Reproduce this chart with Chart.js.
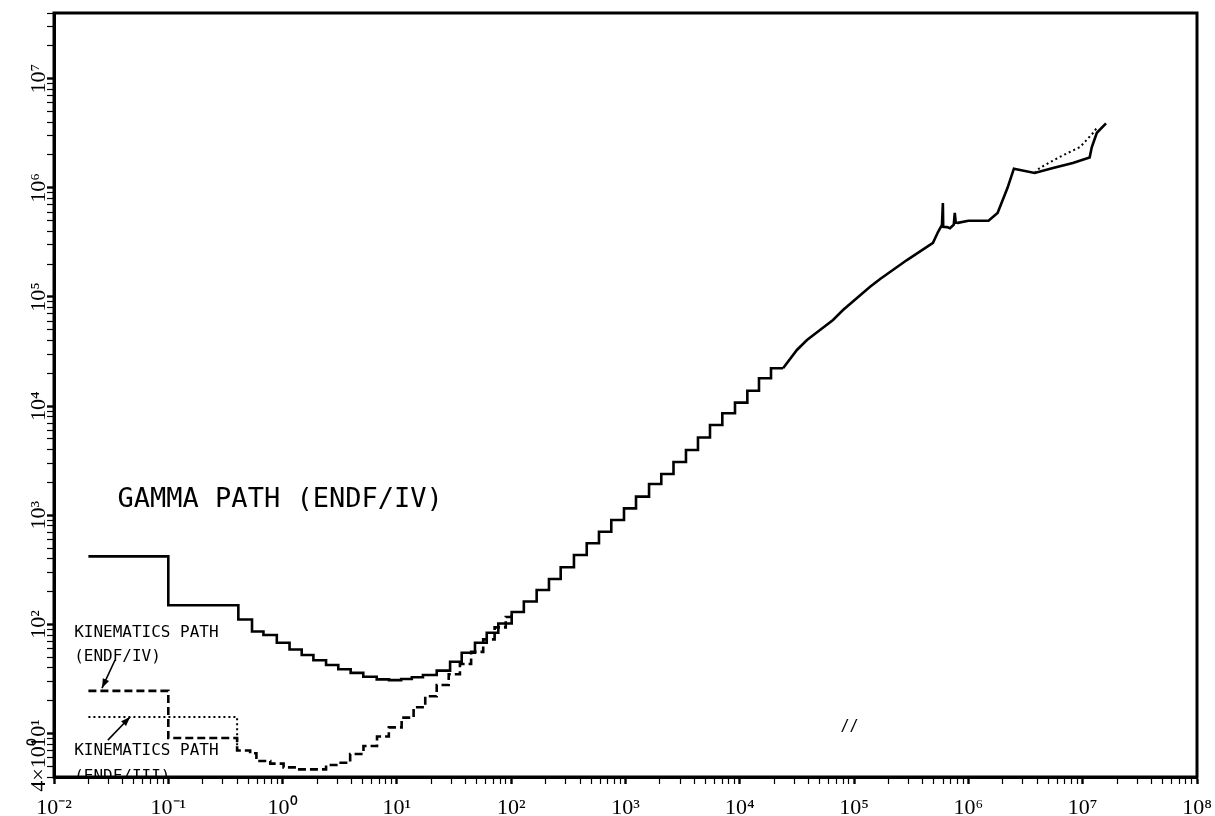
<!DOCTYPE html>
<html>
<head>
<meta charset="utf-8">
<script src="https://cdn.jsdelivr.net/npm/chart.js@4/dist/chart.umd.min.js"></script>
<style>
  html, body { margin: 0; padding: 0; background: #fff; }
  #wrap { width: 1215px; height: 816px; }
</style>
</head>
<body>
<div id="wrap"><canvas id="c" width="1215" height="816"></canvas></div>
<script>
// energy (x) and value (y)
const gammaStepE = [0.02, 0.1, 0.41, 0.54, 0.68, 0.89, 1.15, 1.47, 1.86, 2.4,
  3.07, 3.94, 5.08, 6.66, 8.53, 10.9, 13.5, 16.9, 22.3, 29.2,
  36.9, 48.2, 61.1, 77.1, 101, 129, 167, 214, 271, 354,
  458, 586, 751, 970, 1236, 1607, 2056, 2630, 3381, 4306,
  5485, 7031, 9078, 11640, 14720, 18750, 23900];
const gammaStepV = [420, 150, 111, 86, 80, 68, 59, 52.5, 47, 42.5,
  38.8, 36, 33.2, 31.4, 30.9, 31.6, 32.8, 34.4, 37.7, 45.5,
  55, 68, 84, 102, 130, 162, 207, 261, 334, 433,
  554, 707, 905, 1158, 1481, 1935, 2388, 3078, 3966, 5164,
  6719, 8597, 10760, 13840, 17990, 22220, 22220];

const gammaHighE = [23900, 31600, 38700, 50300, 65400, 80000, 106000, 138000, 169000, 290000,
  490000, 542000, 587000, 598000, 602000, 650000, 690000, 745000, 760000, 775000,
  810000, 1.0e6, 1.5e6, 1.8e6, 2.2e6, 2.5e6, 3.8e6, 5.5e6, 8.2e6, 1.15e7,
  1.2e7, 1.33e7, 1.6e7];
const gammaHighV = [22220, 32700, 40400, 49900, 61500, 76000, 98000, 124000, 146000, 218000,
  313000, 394000, 457000, 726000, 440000, 437000, 427000, 460000, 590000, 480000,
  478000, 5.0e5, 5.0e5, 5.9e5, 1.0e6, 1.5e6, 1.37e6, 1.52e6, 1.69e6, 1.9e6,
  2.35e6, 3.2e6, 3.9e6];

const kinIVE = [0.02, 0.1, 0.4, 0.52, 0.59, 0.78, 1.02, 1.33, 1.8, 2.4,
  3.07, 3.9, 5.1, 6.7, 8.5, 11, 14, 17.7, 22.3, 28.4,
  35.6, 44.6, 56.9, 71.6, 89.6, 101];
const kinIVV = [24.6, 9.1, 7.0, 6.6, 5.6, 5.3, 4.9, 4.7, 4.7, 5.15,
  5.4, 6.5, 7.7, 9.4, 11.4, 14, 17.4, 22, 27.9, 35,
  43.4, 56, 73, 94, 117, 130];

const kinIIIE = [0.02, 0.4, 0.4, 1, 3.8e6, 4.2e6, 6.3e6, 9.5e6, 1.23e7, 1.33e7];
const kinIIIV = [14.2, 14.2, 7.0, null, 1.37e6, 1.52e6, 1.92e6, 2.37e6, 3.18e6, 3.55e6];

const xTickVals = [1e-2, 1e-1, 1e0, 1e1, 1e2, 1e3, 1e4, 1e5, 1e6, 1e7, 1e8];
const xTickLabels = ['10⁻²', '10⁻¹', '10⁰', '10¹', '10²', '10³', '10⁴', '10⁵', '10⁶', '10⁷', '10⁸'];
const yTickVals = [4, 1e1, 1e2, 1e3, 1e4, 1e5, 1e6, 1e7];
const yTickLabels = ['4×10⁰', '10¹', '10²', '10³', '10⁴', '10⁵', '10⁶', '10⁷'];

const pts = (xs, ys) => xs.map((x, i) => ({ x, y: ys[i] }));

// 1..9 x 10^n between min and max, for the small tick marks
function logTicks(min, max) {
  const out = [];
  for (let e = Math.floor(Math.log10(min)); e <= Math.ceil(Math.log10(max)); e++) {
    for (let m = 1; m < 10; m++) {
      const v = m * Math.pow(10, e);
      if (v >= min * 0.999 && v <= max * 1.001) out.push({ value: v, major: m === 1 });
    }
  }
  return out;
}

const frameAndText = {
  id: 'frameAndText',
  afterDatasetsDraw(chart) {
    const { ctx, chartArea: a, scales: { x: xs, y: ys } } = chart;
    ctx.save();
    ctx.strokeStyle = '#000';
    ctx.lineWidth = 3;
    ctx.strokeRect(a.left, a.top, a.right - a.left, a.bottom - a.top);

    // tick labels
    ctx.fillStyle = '#000';
    ctx.font = '22px "Liberation Serif", serif';
    ctx.textAlign = 'center';
    ctx.textBaseline = 'alphabetic';
    xTickVals.forEach((v, i) => ctx.fillText(xTickLabels[i], xs.getPixelForValue(v), 814));
    yTickVals.forEach((v, i) => {
      ctx.save();
      const off = v === 4 ? -12 : 0;
      ctx.translate(45, ys.getPixelForValue(v) + off);
      ctx.rotate(-Math.PI / 2);
      ctx.fillText(yTickLabels[i], 0, 0);
      ctx.restore();
    });

    // annotations, clipped to the plot
    ctx.beginPath();
    ctx.rect(a.left, a.top, a.right - a.left, a.bottom - a.top);
    ctx.clip();
    ctx.textAlign = 'left';
    const put = (t, xv, yv, size) => {
      ctx.font = size + 'px "DejaVu Sans Mono", monospace';
      ctx.fillText(t, xs.getPixelForValue(xv), ys.getPixelForValue(yv));
    };
    put('GAMMA PATH (ENDF/IV)', 0.036, 1190, 27);
    put('KINEMATICS PATH', 0.015, 76.7, 16);
    put('(ENDF/IV)', 0.015, 46.2, 16);
    put('KINEMATICS PATH', 0.015, 6.37, 16);
    put('(ENDF/III)', 0.015, 3.67, 16);
    put('//', 7.6e4, 10.5, 15);

    const arrow = (x0, y0, x1, y1) => {
      const px0 = xs.getPixelForValue(x0), py0 = ys.getPixelForValue(y0);
      const px1 = xs.getPixelForValue(x1), py1 = ys.getPixelForValue(y1);
      const ang = Math.atan2(py1 - py0, px1 - px0);
      ctx.lineWidth = 1.6;
      ctx.beginPath();
      ctx.moveTo(px0, py0);
      ctx.lineTo(px1, py1);
      ctx.stroke();
      ctx.beginPath();
      ctx.moveTo(px1, py1);
      ctx.lineTo(px1 - 10 * Math.cos(ang - 0.35), py1 - 10 * Math.sin(ang - 0.35));
      ctx.lineTo(px1 - 10 * Math.cos(ang + 0.35), py1 - 10 * Math.sin(ang + 0.35));
      ctx.closePath();
      ctx.fill();
    };
    arrow(0.0342, 47.2, 0.0263, 26.1);
    arrow(0.0296, 8.7, 0.0463, 14.2);
    ctx.restore();
  }
};

const axisGrid = {
  drawOnChartArea: false,
  drawTicks: true,
  tickLength: 7,
  color: '#000',
  tickWidth: c => (c.tick && c.tick.major ? 2.4 : 1.2),
};

new Chart(document.getElementById('c'), {
  type: 'line',
  data: {
    datasets: [
      {
        label: 'Gamma path (ENDF/IV)',
        data: pts(gammaStepE, gammaStepV),
        stepped: 'before',
        borderColor: '#000',
        borderWidth: 2.6,
      },
      {
        label: 'Gamma path (ENDF/IV) high',
        data: pts(gammaHighE, gammaHighV),
        borderColor: '#000',
        borderWidth: 2.6,
      },
      {
        label: 'Kinematics path (ENDF/IV)',
        data: pts(kinIVE, kinIVV),
        stepped: 'before',
        borderColor: '#000',
        borderWidth: 2.6,
        borderDash: [8, 4],
      },
      {
        label: 'Kinematics path (ENDF/III)',
        data: pts(kinIIIE, kinIIIV),
        borderColor: '#000',
        borderWidth: 2,
        borderDash: [2, 3],
      },
    ],
  },
  options: {
    responsive: false,
    animation: false,
    devicePixelRatio: 1,
    layout: { padding: { left: 47, right: 18, top: 13, bottom: 32 } },
    elements: { point: { radius: 0 }, line: { tension: 0, fill: false } },
    plugins: { legend: { display: false }, tooltip: { enabled: false } },
    scales: {
      x: {
        type: 'logarithmic',
        min: 1e-2,
        max: 1e8,
        afterBuildTicks: s => { s.ticks = logTicks(1e-2, 1e8); },
        ticks: { display: false, autoSkip: false },
        grid: axisGrid,
        border: { display: true, color: '#000', width: 3 },
      },
      y: {
        type: 'logarithmic',
        min: 4,
        max: 4e7,
        afterBuildTicks: s => { s.ticks = logTicks(4, 4e7); },
        ticks: { display: false, autoSkip: false },
        grid: axisGrid,
        border: { display: true, color: '#000', width: 3 },
      },
    },
  },
  plugins: [frameAndText],
});
</script>
</body>
</html>
